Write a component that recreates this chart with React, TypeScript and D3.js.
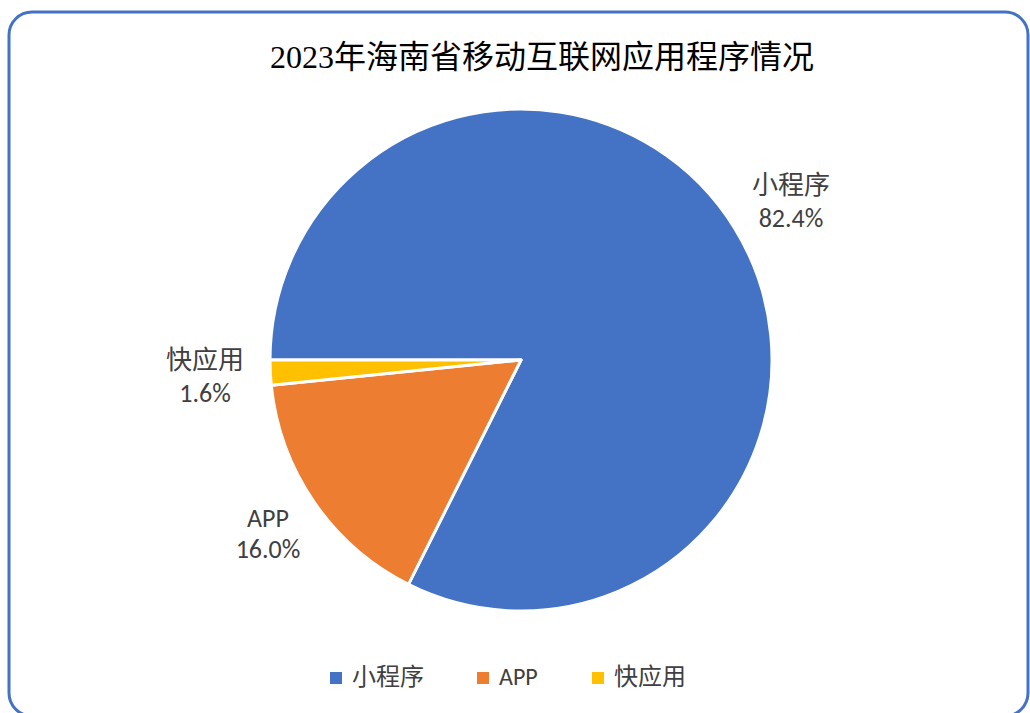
import React from "react";
import * as d3 from "d3";

const categories = ["小程序", "APP", "快应用"];
const values = [82.4, 16.0, 1.6];
const colors = ["#4472C4", "#ED7D31", "#FFC000"];
const labelPositions = [
  [791, 194, 227],
  [268, 527, 558],
  [205, 369, 402],
];

export default function App() {
  const W = 1030, H = 713;
  const cx = 521, cy = 360, r = 251;
  const pie = d3
    .pie<number>()
    .sort(null)
    .startAngle((3 * Math.PI) / 2)
    .endAngle((3 * Math.PI) / 2 + 2 * Math.PI);
  const arcs = pie(values);
  const arc = d3.arc<d3.PieArcDatum<number>>().innerRadius(0).outerRadius(r);
  const sans = "Calibri, Carlito, 'Noto Sans CJK SC', sans-serif";
  const legendX = [330, 477, 592];
  return (
    <svg width={W} height={H} style={{ position: "absolute", left: 0, top: 0 }}>
      <rect x={0} y={0} width={W} height={H} fill="#fff" />
      <rect x={9} y={12} width={1019} height={704} rx={23} ry={23} fill="#fff" stroke="#4472C4" strokeWidth={3} />
      <text x={542} y={68} textAnchor="middle" fontSize={32} fill="#000"
        fontFamily="'Liberation Serif', 'DejaVu Serif', 'Noto Sans CJK SC', serif">
        2023年海南省移动互联网应用程序情况
      </text>
      <g transform={`translate(${cx},${cy})`}>
        {arcs.map((a, i) => (
          <path key={i} d={arc(a) || ""} fill={colors[i]} stroke="#fff" strokeWidth={3} strokeLinejoin="round" />
        ))}
      </g>
      {categories.map((c, i) => (
        <g key={c} fontFamily={sans} fontSize={26} fill="#404040" textAnchor="middle">
          <text x={labelPositions[i][0]} y={labelPositions[i][1]}>{c}</text>
          <text x={labelPositions[i][0]} y={labelPositions[i][2]}>{values[i].toFixed(1)}%</text>
        </g>
      ))}
      {categories.map((c, i) => (
        <g key={"l" + c}>
          <rect x={legendX[i]} y={672} width={12} height={12} fill={colors[i]} />
          <text x={legendX[i] + 22} y={685} fontFamily={sans} fontSize={24} fill="#404040">{c}</text>
        </g>
      ))}
    </svg>
  );
}
